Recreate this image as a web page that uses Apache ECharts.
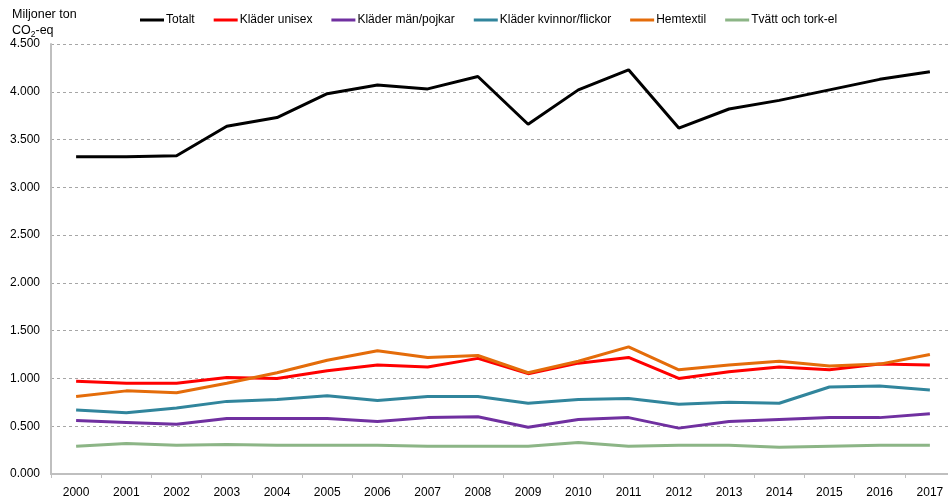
<!DOCTYPE html>
<html>
<head>
<meta charset="utf-8">
<script src="https://cdn.jsdelivr.net/npm/echarts@6/dist/echarts.min.js"></script>
<style>
html,body{margin:0;padding:0;background:#fff;}
#chart{width:948px;height:502px;}
</style>
</head>
<body>
<div id="chart"></div>
<script>
var years = ['2000','2001','2002','2003','2004','2005','2006','2007','2008','2009','2010','2011','2012','2013','2014','2015','2016','2017'];
var totalt = [3.32,3.32,3.33,3.64,3.73,3.98,4.07,4.03,4.16,3.66,4.02,4.23,3.62,3.82,3.91,4.02,4.13,4.21];
var unisex = [0.97,0.95,0.95,1.01,1.00,1.08,1.14,1.12,1.21,1.05,1.16,1.22,1.00,1.07,1.12,1.09,1.15,1.14];
var manPojkar = [0.56,0.54,0.52,0.58,0.58,0.58,0.55,0.59,0.60,0.49,0.57,0.59,0.48,0.55,0.57,0.59,0.59,0.63];
var kvinnorFlickor = [0.67,0.64,0.69,0.76,0.78,0.82,0.77,0.81,0.81,0.74,0.78,0.79,0.73,0.75,0.74,0.91,0.92,0.88];
var hemtextil = [0.81,0.87,0.85,0.95,1.06,1.19,1.29,1.22,1.24,1.06,1.18,1.33,1.09,1.14,1.18,1.13,1.15,1.25];
var tvattTork = [0.29,0.32,0.30,0.31,0.30,0.30,0.30,0.29,0.29,0.29,0.33,0.29,0.30,0.30,0.28,0.29,0.30,0.30];
var yTicks = [0, 0.5, 1.0, 1.5, 2.0, 2.5, 3.0, 3.5, 4.0, 4.5];

var FONT = '"Liberation Sans", Arial, sans-serif';
var chart = echarts.init(document.getElementById('chart'), null, {renderer:'canvas'});

function mk(name, data, color) {
  return {
    name: name, type: 'line', data: data,
    symbol: 'none', smooth: false,
    lineStyle: {color: color, width: 3},
    itemStyle: {color: color},
    emphasis: {disabled: true}
  };
}

chart.setOption({
  animation: false,
  backgroundColor: '#ffffff',
  textStyle: {fontFamily: FONT},
  title: {
    text: '{a|Miljoner ton}\n{a|CO}{s|2}{a|-eq}',
    left: 12, top: 7, padding: 0,
    textStyle: {
      fontFamily: FONT, fontSize: 12.5, fontWeight: 'normal', color: '#000', lineHeight: 16,
      rich: {
        a: {fontFamily: FONT, fontSize: 12.5, color: '#000', lineHeight: 16, verticalAlign: 'middle'},
        s: {fontFamily: FONT, fontSize: 8.5, color: '#000', lineHeight: 16, verticalAlign: 'bottom'}
      }
    }
  },
  legend: {
    left: 140, top: 14, padding: 0,
    itemWidth: 24, itemHeight: 3, itemGap: 19,
    icon: 'rect',
    textStyle: {fontFamily: FONT, fontSize: 12, color: '#000', padding: [0,0,0,-3]},
    data: ['Totalt','Kläder unisex','Kläder män/pojkar','Kläder kvinnor/flickor','Hemtextil','Tvätt och tork-el']
  },
  grid: {left: 51, top: 44, width: 904, height: 430, containLabel: false, outerBoundsMode: 'none'},
  xAxis: {
    type: 'category', data: years, boundaryGap: true,
    axisLine: {lineStyle: {color: '#bfbfbf', width: 2}},
    axisTick: {show: true, length: 4, lineStyle: {color: '#bfbfbf'}},
    axisLabel: {fontFamily: FONT, fontSize: 12, color: '#000', margin: 13}
  },
  yAxis: {
    type: 'value', min: 0, max: 4.5, interval: 0.5,
    axisLine: {show: true, lineStyle: {color: '#bfbfbf', width: 2}},
    axisTick: {show: false},
    axisLabel: {fontFamily: FONT, fontSize: 12, color: '#000', margin: 11,
      formatter: function(v){ return v.toFixed(3); }},
    splitLine: {show: true, lineStyle: {color: '#a6a6a6', type: [3,3], width: 1}}
  },
  series: [
    mk('Totalt', totalt, '#000000'),
    mk('Kläder unisex', unisex, '#ff0000'),
    mk('Kläder män/pojkar', manPojkar, '#7030a0'),
    mk('Kläder kvinnor/flickor', kvinnorFlickor, '#31859c'),
    mk('Hemtextil', hemtextil, '#e46c0a'),
    mk('Tvätt och tork-el', tvattTork, '#8cb586')
  ]
});
</script>
</body>
</html>
